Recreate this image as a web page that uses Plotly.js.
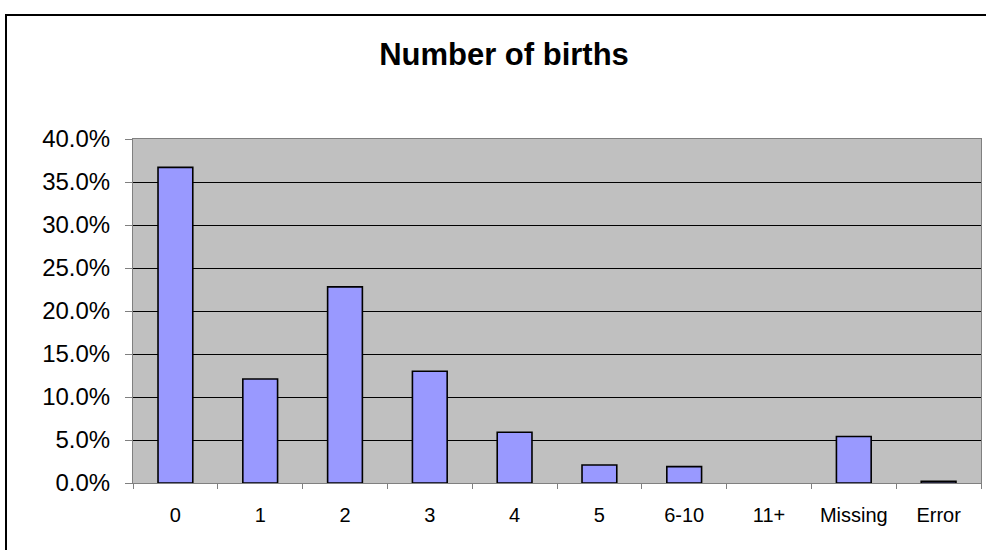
<!DOCTYPE html>
<html>
<head>
<meta charset="utf-8">
<script src="https://cdn.plot.ly/plotly-3.0.1.min.js"></script>
<style>
  html, body { margin: 0; padding: 0; background: #fff; }
  #wrap { position: relative; width: 986px; height: 550px; overflow: hidden; }
  #chart { width: 986px; height: 550px; }
  #frame { position: absolute; left: 5px; top: 14px; width: 990px; height: 550px;
           border: 2px solid #000; pointer-events: none; box-sizing: border-box; }
</style>
</head>
<body>
<div id="wrap">
  <div id="chart"></div>
  <div id="frame"></div>
</div>
<script>
const categories = ["0", "1", "2", "3", "4", "5", "6-10", "11+", "Missing", "Error"];
const shares = [0.367, 0.121, 0.228, 0.130, 0.059, 0.021, 0.019, 0.0, 0.054, 0.002];
const chartTitle = "Number of births";

const trace = {
  type: "bar",
  x: categories,
  y: shares,
  width: 0.41,
  marker: {
    color: "#9999FF",
    line: { color: "#000000", width: shares.map(v => (v > 0 ? 1.6 : 0)) }
  },
  hoverinfo: "x+y"
};

const layout = {
  width: 986,
  height: 550,
  margin: { l: 133, r: 5, t: 139, b: 67 },
  paper_bgcolor: "#ffffff",
  plot_bgcolor: "#C0C0C0",
  font: { family: "Liberation Sans, Arial, sans-serif", color: "#000" },
  title: {
    text: "<b>" + chartTitle + "</b>",
    font: { size: 31, family: "Liberation Sans, Arial, sans-serif", color: "#000" },
    x: 504 / 986, xref: "container", xanchor: "center",
    y: 1 - 54 / 550, yref: "container", yanchor: "middle"
  },
  showlegend: false,
  xaxis: {
    type: "category",
    tickson: "boundaries",
    ticks: "outside",
    ticklen: 5,
    tickcolor: "#808080",
    tickwidth: 1,
    ticklabelstandoff: 14,
    showline: true,
    linecolor: "#808080",
    linewidth: 1,
    mirror: true,
    showgrid: false,
    tickfont: { size: 20, color: "#000" },
    fixedrange: true
  },
  yaxis: {
    range: [0, 0.4],
    dtick: 0.05,
    tickformat: ".1%",
    ticks: "outside",
    ticklen: 7,
    tickcolor: "#808080",
    ticklabelstandoff: 10,
    showline: true,
    linecolor: "#808080",
    linewidth: 1,
    mirror: true,
    showgrid: true,
    gridcolor: "#000000",
    gridwidth: 1,
    zeroline: false,
    tickfont: { size: 24, color: "#000" },
    fixedrange: true
  }
};

Plotly.newPlot("chart", [trace], layout, { displayModeBar: false, staticPlot: true });
</script>
</body>
</html>
